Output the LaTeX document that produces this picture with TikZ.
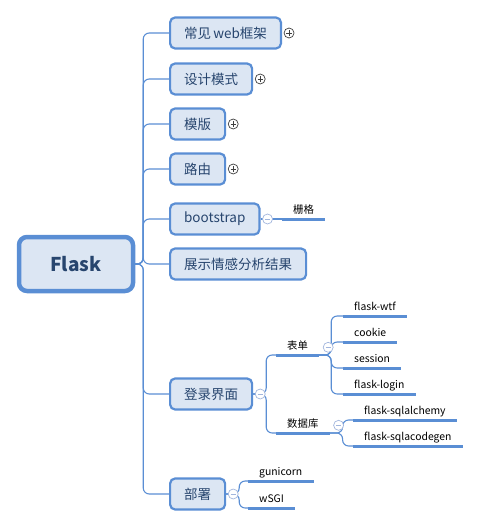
\documentclass[tikz,border=0pt]{standalone}
\usepackage{fontspec}
\setmainfont{Noto Sans CJK SC}
\definecolor{mapblue}{HTML}{5A8ED4}
\definecolor{mapfill}{HTML}{DCE6F3}
\definecolor{maptext}{HTML}{27456E}
\definecolor{iconblue}{HTML}{A2B6DD}
\begin{document}
\begin{tikzpicture}
	[x=1pt,y=-1pt,
	rootbox/.style={draw=mapblue,fill=mapfill,line width=4.5pt,rounded corners=8pt,minimum width=114pt,minimum height=54pt,text=maptext,font=\fontsize{19}{22}\selectfont\bfseries},
	topic/.style={draw=mapblue,fill=mapfill,line width=2.2pt,rounded corners=5pt,minimum height=31pt,inner xsep=14pt,anchor=west,text=maptext,font=\fontsize{13.5}{16}\selectfont},
	leaf/.style={anchor=south west,inner xsep=11pt,inner ysep=2pt,text height=8pt,text depth=3pt,text=black,font=\fontsize{10.4}{12}\selectfont},
	uline/.style={draw=mapblue,line width=3pt},
	link/.style={draw=mapblue,line width=1.1pt,rounded corners=6pt},
	plusicon/.style={circle,draw=black!75,fill=white,line width=0.7pt,minimum size=10pt,inner sep=0pt,
		path picture={\draw[black!75,line width=0.7pt]
			([xshift=-2.7pt]path picture bounding box.center) -- ([xshift=2.7pt]path picture bounding box.center)
			([yshift=-2.7pt]path picture bounding box.center) -- ([yshift=2.7pt]path picture bounding box.center);}},
	minusicon/.style={circle,draw=iconblue,fill=white,line width=0.7pt,minimum size=10pt,inner sep=0pt,
		path picture={\draw[iconblue,line width=0.7pt]
			([xshift=-2.7pt]path picture bounding box.center) -- ([xshift=2.7pt]path picture bounding box.center);}}]
	\useasboundingbox (0,0) rectangle (483,527);
	\node[rootbox] (flask) at (76,264) {Flask};
	\node[topic] (web) at (169,33) {常见\,web框架};
	\node[topic] (pattern) at (169,79) {设计模式};
	\node[topic] (template) at (169,124) {模版};
	\node[topic] (route) at (169,169) {路由};
	\node[topic] (bootstrap) at (169,219) {bootstrap};
	\node[topic] (result) at (169,264) {展示情感分析结果};
	\node[topic] (login) at (169,394) {登录界面};
	\node[topic] (deploy) at (169,494) {部署};
	\node[leaf] (grid) at (282,219) {栅格};
	\node[leaf] (form) at (276,355) {表单};
	\node[leaf] (db) at (276,433) {数据库};
	\node[leaf] (wtf) at (343,316) {flask-wtf};
	\node[leaf] (cookie) at (343,342) {cookie};
	\node[leaf] (session) at (343,368) {session};
	\node[leaf] (flogin) at (343,394) {flask-login};
	\node[leaf] (alchemy) at (353,420) {flask-sqlalchemy};
	\node[leaf] (codegen) at (353,446) {flask-sqlacodegen};
	\node[leaf] (gunicorn) at (248,481) {gunicorn};
	\node[leaf] (wsgi) at (248,508) {wSGI};
	\foreach \n in {web,pattern,template,route,bootstrap,result,login,deploy}
		\draw[link] (flask.east) -- ++(8,0) |- (\n.west);
	\draw[link] (bootstrap.east) -- (grid.south west);
	\foreach \n in {form,db}
		\draw[link] (login.east) -- ++(13,0) |- (\n.south west);
	\foreach \n in {wtf,cookie,session,flogin}
		\draw[link] (form.south east) -- ++(12,0) |- (\n.south west);
	\foreach \n in {alchemy,codegen}
		\draw[link] (db.south east) -- ++(13,0) |- (\n.south west);
	\foreach \n in {gunicorn,wsgi}
		\draw[link] (deploy.east) -- ++(13,0) |- (\n.south west);
	\foreach \n in {grid,form,db,wtf,cookie,session,flogin,alchemy,codegen,gunicorn,wsgi}
		\draw[uline] (\n.south west) -- (\n.south east);
	\foreach \n in {web,pattern,template,route}
		\node[plusicon] (\n plus) at ([xshift=7pt]\n.east) {};
	\foreach \n in {bootstrap,login,deploy}
		\node[minusicon] (\n minus) at ([xshift=7pt]\n.east) {};
	\foreach \n in {form,db}
		\node[minusicon] (\n minus) at ([xshift=9pt]\n.east) {};
\end{tikzpicture}
\end{document}
